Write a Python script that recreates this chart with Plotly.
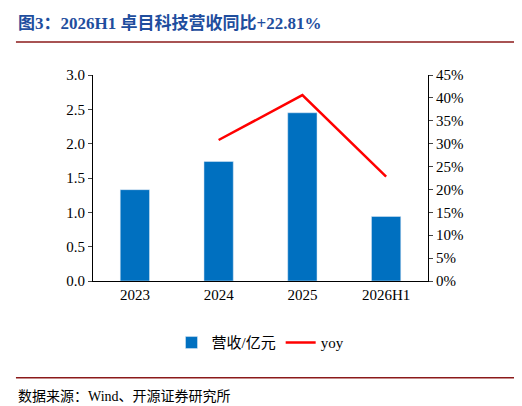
import plotly.graph_objects as go

categories = ["2023", "2024", "2025", "2026H1"]
revenue = [1.33, 1.74, 2.45, 0.94]
yoy_x = ["2024", "2025", "2026H1"]
yoy = [30.8, 40.6, 22.81]

font_main = "Times New Roman, Liberation Serif, Noto Sans CJK SC"

fig = go.Figure()
fig.add_trace(go.Bar(x=categories, y=revenue, name="营收/亿元",
                     marker_color="#0070C0", width=0.35))
fig.add_trace(go.Scatter(x=yoy_x, y=yoy, name="yoy", yaxis="y2", mode="lines",
                         line=dict(color="#FF0000", width=2.5)))

fig.update_layout(
    width=522, height=406,
    paper_bgcolor="white", plot_bgcolor="white",
    margin=dict(l=85, r=102, t=67, b=133),
    font=dict(family=font_main, size=15, color="black"),
    showlegend=True,
    legend=dict(orientation="h", x=0.5, xanchor="center", y=-0.30, yanchor="middle",
                font=dict(size=15)),
    xaxis=dict(showline=True, linecolor="black", ticks="", tickfont=dict(size=15)),
    yaxis=dict(range=[0, 3.0], dtick=0.5, tickformat=".1f", showgrid=False,
               showline=True, linecolor="black", ticks="outside", ticklen=4),
    yaxis2=dict(range=[0, 45], dtick=5, ticksuffix="%", overlaying="y", side="right",
                showgrid=False, showline=True, linecolor="black", ticks="outside", ticklen=4),
)

fig.add_annotation(text="<b>图3：2026H1 卓目科技营收同比+22.81%</b>", xref="paper", yref="paper",
                   x=-0.23, y=1.25, xanchor="left", yanchor="middle", showarrow=False,
                   font=dict(size=17, color="#1F4E9E"))
fig.add_shape(type="line", xref="paper", yref="paper", x0=-0.23, x1=1.28, y0=1.16, y1=1.16,
              line=dict(color="#8B1A1A", width=1.5))
fig.add_shape(type="line", xref="paper", yref="paper", x0=-0.23, x1=1.28, y0=-0.47, y1=-0.47,
              line=dict(color="#8B1A1A", width=1.5))
fig.add_annotation(text="数据来源：Wind、开源证券研究所", xref="paper", yref="paper",
                   x=-0.23, y=-0.56, xanchor="left", yanchor="middle", showarrow=False,
                   font=dict(size=14))

fig.write_html("out.html")
